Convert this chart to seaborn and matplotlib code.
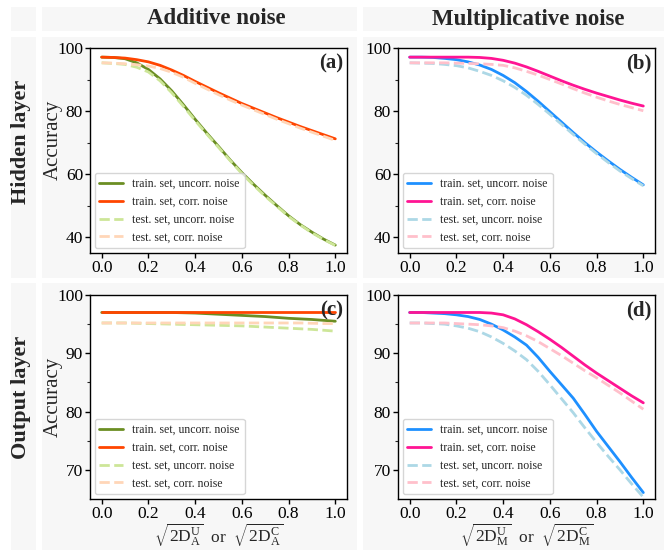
import numpy as np
import pandas as pd
import matplotlib
matplotlib.use("Agg")
import matplotlib.pyplot as plt
from matplotlib.patches import Rectangle
import seaborn as sns

# ==================== data ====================
noise_level = [0.0, 0.05, 0.1, 0.15, 0.2, 0.25, 0.3, 0.35, 0.4, 0.45, 0.5,
               0.55, 0.6, 0.65, 0.7, 0.75, 0.8, 0.85, 0.9, 0.95, 1.0]

# (a) hidden layer, additive noise
a_train_uncorr = [97.1, 97.0, 96.6, 95.3, 93.2, 90.2, 86.4, 82.0, 77.4, 73.0, 68.8,
                  64.5, 60.5, 56.8, 53.3, 50.0, 46.8, 44.0, 41.6, 39.4, 37.5]
a_train_corr = [97.1, 97.0, 96.8, 96.3, 95.6, 94.5, 93.0, 91.3, 89.4, 87.6, 85.8,
                84.1, 82.4, 80.9, 79.4, 77.9, 76.5, 75.1, 73.8, 72.5, 71.2]
a_test_uncorr = [95.3, 95.1, 94.8, 93.9, 92.4, 89.6, 85.8, 81.5, 77.0, 72.7, 68.5,
                 64.3, 60.2, 56.5, 53.0, 49.8, 46.6, 43.9, 41.4, 39.3, 37.4]
a_test_corr = [95.3, 95.2, 95.0, 94.7, 94.3, 93.5, 92.3, 90.7, 88.8, 87.0, 85.2,
               83.5, 81.9, 80.4, 78.9, 77.4, 76.0, 74.6, 73.3, 72.0, 70.7]

# (b) hidden layer, multiplicative noise
b_train_uncorr = [97.1, 97.1, 97.0, 96.7, 96.3, 95.6, 94.6, 93.2, 91.3, 89.0, 86.2,
                  83.1, 79.8, 76.5, 73.2, 70.0, 67.0, 64.2, 61.5, 59.0, 56.6]
b_train_corr = [97.1, 97.1, 97.1, 97.1, 97.1, 97.1, 97.0, 96.7, 96.1, 95.2, 94.0,
                92.6, 91.1, 89.6, 88.2, 86.9, 85.7, 84.6, 83.5, 82.5, 81.6]
b_test_uncorr = [95.3, 95.2, 95.1, 94.8, 94.4, 93.7, 92.6, 91.3, 89.6, 87.5, 85.0,
                 82.1, 79.0, 75.8, 72.6, 69.5, 66.5, 63.7, 61.0, 58.6, 56.3]
b_test_corr = [95.3, 95.3, 95.3, 95.3, 95.2, 95.1, 95.0, 94.8, 94.5, 93.7, 92.6,
               91.4, 90.0, 88.6, 87.1, 85.7, 84.4, 83.2, 82.1, 81.1, 80.1]

# (c) output layer, additive noise
c_train_uncorr = [97.0, 97.0, 97.0, 97.0, 97.0, 97.0, 97.0, 96.95, 96.9, 96.8, 96.7,
                  96.6, 96.5, 96.4, 96.3, 96.15, 96.0, 95.9, 95.8, 95.65, 95.5]
c_train_corr = [97.0, 97.0, 97.0, 97.0, 97.0, 97.0, 97.0, 97.0, 97.0, 97.0, 97.0,
                97.0, 97.0, 97.0, 97.0, 97.0, 97.0, 97.0, 97.0, 97.0, 97.0]
c_test_uncorr = [95.2, 95.2, 95.2, 95.15, 95.1, 95.05, 95.0, 94.95, 94.9, 94.85, 94.8,
                 94.75, 94.7, 94.6, 94.5, 94.4, 94.3, 94.2, 94.1, 93.95, 93.8]
c_test_corr = [95.2, 95.2, 95.2, 95.2, 95.2, 95.2, 95.2, 95.2, 95.2, 95.2, 95.2,
               95.2, 95.2, 95.2, 95.2, 95.2, 95.2, 95.2, 95.15, 95.1, 95.1]

# (d) output layer, multiplicative noise
d_train_uncorr = [97.0, 97.0, 96.9, 96.8, 96.6, 96.3, 95.8, 95.0, 94.0, 92.8, 91.4,
                  89.3, 86.9, 84.6, 82.3, 79.5, 76.6, 74.0, 71.4, 68.7, 66.1]
d_train_corr = [97.0, 97.0, 97.0, 97.0, 97.0, 97.0, 97.0, 96.9, 96.6, 95.9, 94.9,
                93.7, 92.4, 91.0, 89.5, 88.0, 86.6, 85.3, 84.0, 82.7, 81.5]
d_test_uncorr = [95.2, 95.2, 95.1, 95.0, 94.7, 94.3, 93.7, 92.8, 91.7, 90.4, 88.9,
                 86.9, 84.6, 82.2, 79.8, 77.2, 74.7, 72.3, 70.0, 67.6, 65.3]
d_test_corr = [95.2, 95.2, 95.2, 95.2, 95.1, 95.0, 94.9, 94.7, 94.4, 93.8, 93.0,
               92.0, 90.8, 89.6, 88.3, 87.0, 85.8, 84.5, 83.2, 81.8, 80.4]

series_labels = ["train. set, uncorr. noise", "train. set, corr. noise",
                 "test. set, uncorr. noise", "test. set, corr. noise"]
col_titles = ["Additive noise", "Multiplicative noise"]
row_titles = ["Hidden layer", "Output layer"]
panel_tags = ["(a)", "(b)", "(c)", "(d)"]

# ==================== style ====================
sns.set_style("ticks")
plt.rcParams['font.family'] = ['Liberation Serif', 'DejaVu Serif']
plt.rcParams['mathtext.fontset'] = 'custom'
plt.rcParams['mathtext.rm'] = 'Liberation Serif'
plt.rcParams['mathtext.it'] = 'Liberation Serif:italic'
plt.rcParams['xtick.direction'] = 'out'
plt.rcParams['ytick.direction'] = 'out'

add_colors = ['#6b8e23', '#ff4500', '#cde698', '#ffd6b8']
mul_colors = ['#1e90ff', '#ff1493', '#add8e6', '#ffc0cb']
styles = ['-', '-', '--', '--']

W, H = 667, 550
fig = plt.figure(figsize=(W / 100, H / 100), dpi=100)


def px_rect(x0, y0, x1, y1):
    # pixel box (top-left origin) -> figure fraction rectangle
    return (x0 / W, 1 - y1 / H, (x1 - x0) / W, (y1 - y0) / H)


# grey background boxes
bg = '#f7f7f7'
for x0, x1 in [(11, 36), (42, 357), (363, 664)]:
    for y0, y1 in [(7, 31), (37, 278), (283, 550)]:
        l, b, w, h = px_rect(x0, y0, x1, y1)
        fig.add_artist(Rectangle((l, b), w, h, transform=fig.transFigure,
                                 facecolor=bg, edgecolor='none', zorder=0))

axes_pos = [px_rect(90, 48, 347, 253), px_rect(398, 48, 655, 253),
            px_rect(90, 295, 347, 499), px_rect(398, 295, 655, 499)]
panels = [
    (a_train_uncorr, a_train_corr, a_test_uncorr, a_test_corr),
    (b_train_uncorr, b_train_corr, b_test_uncorr, b_test_corr),
    (c_train_uncorr, c_train_corr, c_test_uncorr, c_test_corr),
    (d_train_uncorr, d_train_corr, d_test_uncorr, d_test_corr),
]
xlabels = {
    2: r"$\sqrt{2\mathrm{D}_\mathrm{A}^\mathrm{U}}$  or  $\sqrt{2\mathrm{D}_\mathrm{A}^\mathrm{C}}$",
    3: r"$\sqrt{2\mathrm{D}_\mathrm{M}^\mathrm{U}}$  or  $\sqrt{2\mathrm{D}_\mathrm{M}^\mathrm{C}}$",
}

for i, (pos, curves) in enumerate(zip(axes_pos, panels)):
    ax = fig.add_axes(pos)
    ax.set_facecolor('white')
    colors = add_colors if i % 2 == 0 else mul_colors
    for vals, c, ls, lab in zip(curves, colors, styles, series_labels):
        df = pd.DataFrame({"x": noise_level, "acc": vals})
        sns.lineplot(data=df, x="x", y="acc", ax=ax, color=c, linestyle=ls,
                     linewidth=2, label=lab)
    ax.set_xlim(-0.05, 1.05)
    ticks = np.arange(0, 1.01, 0.2)
    ax.set_xticks(ticks)
    ax.set_xticklabels([f"{t:.1f}" for t in ticks])
    if i < 2:
        ax.set_ylim(35, 100)
        ax.set_yticks([40, 60, 80, 100])
        ax.set_yticks([50, 70, 90], minor=True)
    else:
        ax.set_ylim(65, 100)
        ax.set_yticks([70, 80, 90, 100])
        ax.set_yticks([75, 85, 95], minor=True)
    ax.tick_params(axis='both', labelsize=12.5, length=3.5, width=1, colors='black', pad=1.5)
    ax.tick_params(axis='y', which='minor', length=2.5, width=0.8)
    for sp in ax.spines.values():
        sp.set_visible(True)
        sp.set_color('black')
        sp.set_linewidth(1)
    if i % 2 == 0:
        ax.set_ylabel("Accuracy", fontsize=15, labelpad=0)
        ax.yaxis.set_label_coords(-0.105, 0.55 if i == 0 else 0.5)
    else:
        ax.set_ylabel("")
    ax.set_xlabel(xlabels.get(i, ""), fontsize=12.5, labelpad=0)
    ax.xaxis.set_label_coords(0.5, -0.113)
    ax.legend(loc='lower left', fontsize=8.5, framealpha=0.8, borderaxespad=0.4)
    ax.text(0.985, 0.975, panel_tags[i], transform=ax.transAxes, ha='right',
            va='top', fontsize=15, fontweight='bold')

# column and row headers
fig.text(216 / W, 1 - 19 / H, col_titles[0], ha='center', va='center',
         fontsize=16.5, fontweight='bold')
fig.text(528 / W, 1 - 19 / H, col_titles[1], ha='center', va='center',
         fontsize=16.5, fontweight='bold')
fig.text(21 / W, 1 - 142 / H, row_titles[0], ha='center', va='center',
         rotation=90, fontsize=16, fontweight='bold')
fig.text(21 / W, 1 - 397 / H, row_titles[1], ha='center', va='center',
         rotation=90, fontsize=16, fontweight='bold')

fig.savefig("out.png", dpi=100)
